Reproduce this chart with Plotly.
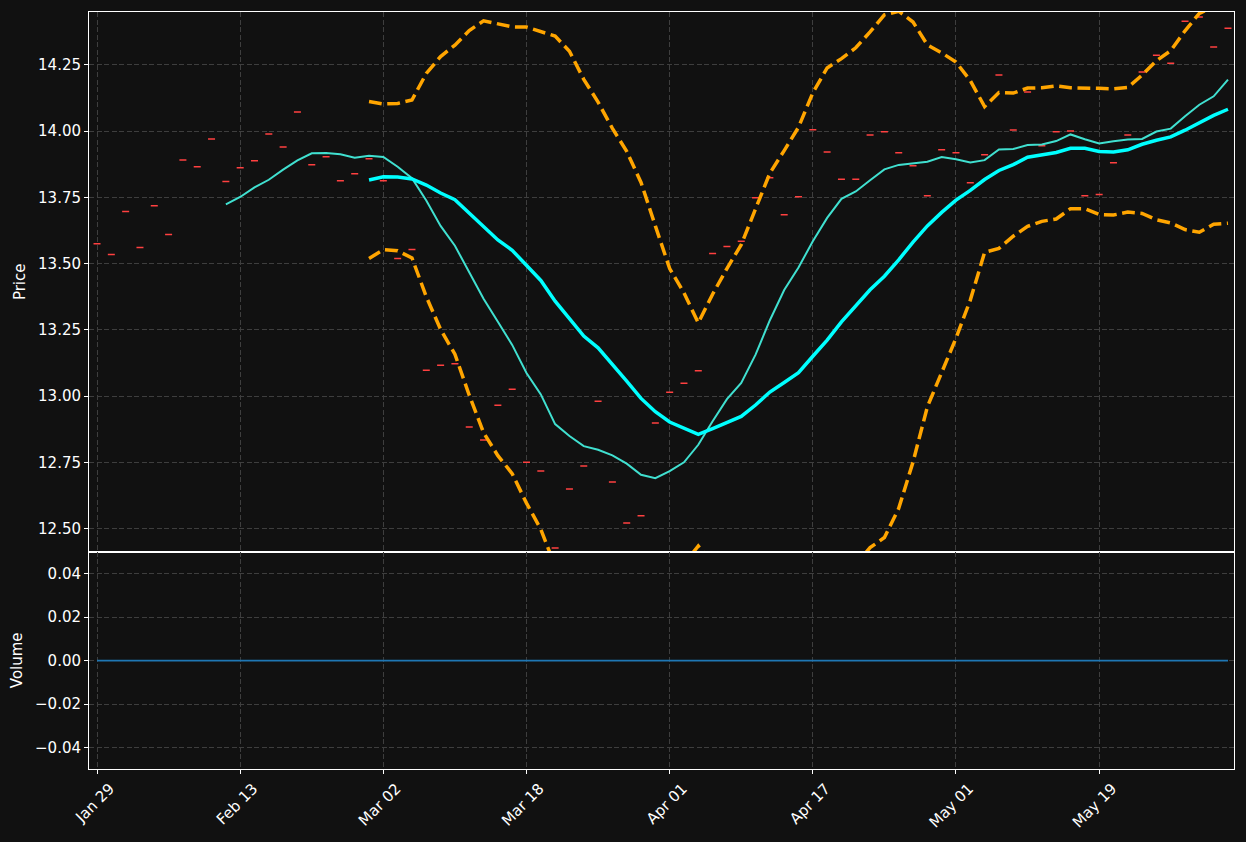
import plotly.graph_objects as go

# ---------------- data ----------------
tick_labels = ["Jan 29", "Feb 13", "Mar 02", "Mar 18", "Apr 01", "Apr 17", "May 01", "May 19"]
tick_index = [0, 10, 20, 30, 40, 50, 60, 70]

close = [13.575, 13.534, 13.696, 13.560, 13.718, 13.609, 13.891, 13.865, 13.970, 13.809,
         13.861, 13.888, 13.989, 13.940, 14.072, 13.873, 13.903, 13.812, 13.839, 13.895,
         13.812, 13.519, 13.553, 13.097, 13.116, 13.122, 12.883, 12.834, 12.965, 13.026,
         12.750, 12.717, 12.427, 12.649, 12.736, 12.980, 12.676, 12.521, 12.548, 12.898,
         13.014, 13.048, 13.095, 13.538, 13.564, 13.584, 13.748, 13.824, 13.684, 13.752,
         14.005, 13.921, 13.818, 13.818, 13.985, 13.997, 13.918, 13.869, 13.756, 13.929,
         13.918, 13.805, 13.910, 14.211, 14.004, 14.147, 13.944, 13.997, 14.000, 13.756,
         13.760, 13.880, 13.985, 14.223, 14.286, 14.256, 14.414, 14.430, 14.317, 14.388]
open_ = close
high = close
low = close
volume = [0] * 80

# short moving average line (starts at bar 9)
ma_short = [13.723, 13.751, 13.787, 13.816, 13.854, 13.889, 13.916, 13.917, 13.912, 13.899,
            13.907, 13.902, 13.865, 13.822, 13.738, 13.642, 13.567, 13.465, 13.367, 13.280,
            13.193, 13.087, 13.006, 12.894, 12.849, 12.811, 12.797, 12.776, 12.745, 12.703,
            12.690, 12.717, 12.750, 12.816, 12.905, 12.988, 13.049, 13.156, 13.286, 13.400,
            13.485, 13.584, 13.672, 13.744, 13.772, 13.814, 13.855, 13.872, 13.877, 13.884,
            13.902, 13.893, 13.881, 13.890, 13.930, 13.932, 13.947, 13.949, 13.962, 13.987,
            13.969, 13.953, 13.961, 13.968, 13.970, 13.998, 14.009, 14.056, 14.099, 14.131,
            14.194]

# long moving average line and its bands (start at bar 19)
ma_long = [13.815, 13.827, 13.826, 13.819, 13.796, 13.766, 13.741, 13.691, 13.639, 13.589,
           13.550, 13.494, 13.436, 13.358, 13.293, 13.226, 13.182, 13.120, 13.056, 12.991,
           12.941, 12.902, 12.878, 12.855, 12.877, 12.900, 12.923, 12.966, 13.015, 13.051,
           13.088, 13.150, 13.211, 13.280, 13.339, 13.401, 13.452, 13.514, 13.581, 13.642,
           13.693, 13.739, 13.776, 13.817, 13.851, 13.873, 13.901, 13.911, 13.919, 13.935,
           13.935, 13.923, 13.921, 13.929, 13.950, 13.965, 13.978, 14.003, 14.031, 14.059,
           14.082]
band_upper = [14.111, 14.102, 14.104, 14.117, 14.217, 14.281, 14.324, 14.379, 14.416, 14.403,
              14.393, 14.392, 14.375, 14.358, 14.301, 14.195, 14.109, 14.010, 13.923, 13.806,
              13.642, 13.481, 13.389, 13.276, 13.384, 13.481, 13.571, 13.706, 13.841, 13.926,
              14.014, 14.144, 14.238, 14.273, 14.314, 14.374, 14.438, 14.452, 14.411, 14.325,
              14.295, 14.260, 14.190, 14.092, 14.145, 14.143, 14.162, 14.163, 14.170, 14.163,
              14.163, 14.161, 14.159, 14.164, 14.211, 14.265, 14.303, 14.378, 14.444, 14.470,
              14.512]
band_lower = [13.519, 13.552, 13.548, 13.521, 13.375, 13.251, 13.158, 13.003, 12.862, 12.775,
              12.707, 12.596, 12.497, 12.358, 12.285, 12.257, 12.255, 12.230, 12.189, 12.176,
              12.240, 12.323, 12.367, 12.434, 12.370, 12.319, 12.275, 12.226, 12.189, 12.176,
              12.162, 12.156, 12.184, 12.287, 12.364, 12.428, 12.466, 12.576, 12.751, 12.959,
              13.091, 13.218, 13.362, 13.542, 13.557, 13.603, 13.640, 13.659, 13.668, 13.707,
              13.707, 13.685, 13.683, 13.694, 13.689, 13.665, 13.653, 13.628, 13.618, 13.648,
              13.652]

n = len(close)
x_all = list(range(n))
x_short = list(range(n - len(ma_short), n))
x_long = list(range(n - len(ma_long), n))

# ---------------- figure ----------------
BG = "#111111"
GRID = "#3e3e3e"
FONT = dict(family="DejaVu Sans", size=15, color="#ffffff")
CANDLE = "#ff4040"

fig = go.Figure()

fig.add_trace(go.Candlestick(
    x=x_all, open=open_, high=high, low=low, close=close,
    increasing=dict(line=dict(color=CANDLE, width=1.5), fillcolor=CANDLE),
    decreasing=dict(line=dict(color=CANDLE, width=1.5), fillcolor=CANDLE),
    whiskerwidth=0, xaxis="x", yaxis="y", showlegend=False, hoverinfo="skip"))

fig.add_trace(go.Scatter(x=x_short, y=ma_short, mode="lines",
                         line=dict(color="#40E0D0", width=2),
                         xaxis="x", yaxis="y", showlegend=False))
fig.add_trace(go.Scatter(x=x_long, y=ma_long, mode="lines",
                         line=dict(color="#00FFFF", width=3.5),
                         xaxis="x", yaxis="y", showlegend=False))
for band in (band_upper, band_lower):
    fig.add_trace(go.Scatter(x=x_long, y=band, mode="lines",
                             line=dict(color="#FFA500", width=3.5, dash="12.8px,5.6px"),
                             xaxis="x", yaxis="y", showlegend=False))

fig.add_trace(go.Scatter(x=x_all, y=volume, mode="lines",
                         line=dict(color="#1f77b4", width=1.6),
                         xaxis="x2", yaxis="y2", showlegend=False))

split = 0.2872
common_x = dict(range=[-0.56, 79.42], tickmode="array", tickvals=tick_index,
                showgrid=True, gridcolor=GRID, griddash="5px,2.5px", gridwidth=1,
                showline=True, linecolor="#ffffff", linewidth=1, mirror=True,
                zeroline=False)
common_y = dict(showgrid=True, gridcolor=GRID, griddash="5px,2.5px", gridwidth=1,
                showline=True, linecolor="#ffffff", linewidth=1, mirror=True,
                zeroline=False, ticks="outside", ticklen=4, tickcolor="#ffffff",
                tickfont=FONT, tickformat=".2f")

fig.update_layout(
    width=1246, height=842,
    paper_bgcolor=BG, plot_bgcolor=BG,
    font=FONT,
    margin=dict(l=89, r=11, t=11, b=72),
    showlegend=False,
    xaxis=dict(common_x, domain=[0, 1], anchor="y", showticklabels=False,
               ticks="", rangeslider=dict(visible=False)),
    xaxis2=dict(common_x, domain=[0, 1], anchor="y2", matches="x",
                ticktext=tick_labels, ticks="outside", ticklen=4, tickcolor="#ffffff",
                tickangle=-45, tickfont=FONT, ticklabelshift=13),
    yaxis=dict(common_y, domain=[split, 1], anchor="x", range=[12.413, 14.449],
               tickmode="array", tickvals=[12.5, 12.75, 13.0, 13.25, 13.5, 13.75, 14.0, 14.25],
               title=dict(text="Price", font=FONT, standoff=8)),
    yaxis2=dict(common_y, domain=[0, split], anchor="x2", range=[-0.0498, 0.0501],
                tickmode="array", tickvals=[-0.04, -0.02, 0.0, 0.02, 0.04],
                title=dict(text="Volume", font=FONT, standoff=8)),
)

fig.write_html("out.html")
